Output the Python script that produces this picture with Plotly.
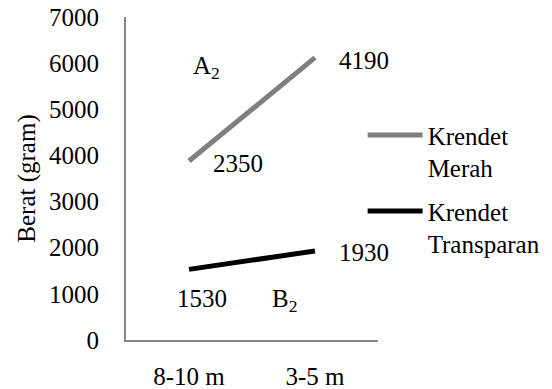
import plotly.graph_objects as go

categories = ["8-10 m", "3-5 m"]
transparan = [1530, 1930]
merah = [2350, 4190]
y_ticks = [0, 1000, 2000, 3000, 4000, 5000, 6000, 7000]

FONT = "Liberation Serif"
FS = 25

merah_top = [t + m for t, m in zip(transparan, merah)]

fig = go.Figure()
fig.add_trace(go.Scatter(
    x=categories, y=transparan, name="Krendet<br>Transparan",
    mode="lines", stackgroup="s", fill="none", legendgroup="t", legendrank=2,
    line=dict(color="#000000", width=5),
))
fig.add_trace(go.Scatter(
    x=categories, y=merah, name="Krendet<br>Merah",
    mode="lines", stackgroup="s", fill="none", legendgroup="m", legendrank=1,
    line=dict(color="#7f7f7f", width=5),
))

tf = dict(family=FONT, size=FS, color="#000")
annotations = []
for c, top, v in zip(categories, merah_top, merah):
    annotations.append(dict(x=c, y=top, text=str(v), showarrow=False,
                            xshift=49, yshift=-3, font=tf))
annotations.append(dict(x=categories[0], y=transparan[0], text=str(transparan[0]), showarrow=False,
                        xshift=13, yshift=-29, font=tf))
annotations.append(dict(x=categories[1], y=transparan[1], text=str(transparan[1]), showarrow=False,
                        xshift=49, yshift=-2, font=tf))
annotations.append(dict(x=categories[0], y=5900, text="A<sub>2</sub>", showarrow=False,
                        xshift=17, font=tf))
annotations.append(dict(x=categories[0], y=850, text="B<sub>2</sub>", showarrow=False,
                        xshift=95, font=tf))

fig.update_layout(
    width=552, height=389,
    margin=dict(l=126, r=174, t=17, b=49, pad=0, autoexpand=False),
    paper_bgcolor="white", plot_bgcolor="white",
    font=tf,
    showlegend=True,
    legend=dict(x=0.939, y=0.705, xanchor="left", yanchor="top",
                traceorder="grouped", valign="top",
                font=tf, bgcolor="rgba(0,0,0,0)", tracegroupgap=8, itemwidth=55),
    annotations=annotations,
)
fig.update_xaxes(type="category", range=[-0.5, 1.5], showgrid=False, zeroline=False,
                 automargin=False,
                 showline=True, linecolor="#868686", linewidth=2, ticks="",
                 ticklabelstandoff=13, tickfont=tf)
fig.update_yaxes(range=[0, 7000], tickvals=y_ticks, ticktext=[str(v) for v in y_ticks],
                 showgrid=False, zeroline=False, automargin=False,
                 showline=True, linecolor="#868686", linewidth=2, ticks="",
                 ticklabelstandoff=20, tickfont=tf,
                 title=dict(text="Berat (gram)", standoff=6, font=tf))

fig.write_html("out.html", config={"displayModeBar": False},
               post_script="document.body.style.margin='0';")
